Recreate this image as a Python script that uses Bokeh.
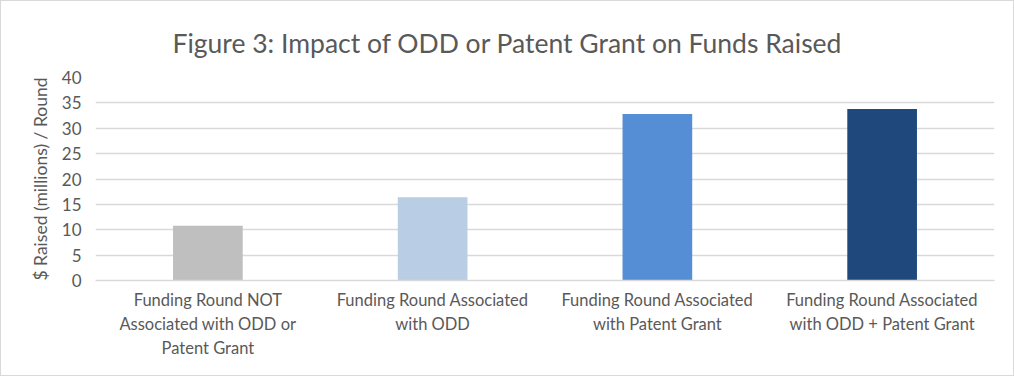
from bokeh.plotting import figure
from bokeh.models import Range1d, FactorRange, SingleIntervalTicker
from bokeh.embed import file_html
from bokeh.resources import INLINE

categories = [
    "Funding Round NOT\nAssociated with ODD or\nPatent Grant",
    "Funding Round Associated\nwith ODD",
    "Funding Round Associated\nwith Patent Grant",
    "Funding Round Associated\nwith ODD + Patent Grant",
]
values = [10.8, 16.4, 32.8, 33.8]
colors = ["#BFBFBF", "#B9CDE5", "#558ED5", "#1F497D"]
title_text = "Figure 3: Impact of ODD or Patent Grant on Funds Raised"
y_label = "$ Raised (millions) / Round"

FONT = "Lato"
TXT = "#595959"

p = figure(width=1014, height=376, x_range=FactorRange(*categories), y_range=Range1d(0, 40),
           output_backend="svg", toolbar_location=None,
           min_border_left=94, min_border_right=21, min_border_top=76, min_border_bottom=97)
p.outline_line_color = None
p.border_fill_color = "white"
p.styles = {"border": "1px solid #D9D9D9", "box-sizing": "border-box"}

p.title.text = title_text
p.title.align = "left"
p.title.text_font = FONT
p.title.text_font_size = "26.5px"
p.title.text_font_style = "normal"
p.title.text_color = TXT
p.title.standoff = 38
p.title.offset = 77

p.vbar(x=categories, top=values, width=0.31, fill_color=colors, line_color=None)

p.yaxis.ticker = SingleIntervalTicker(interval=5)
p.yaxis.axis_line_color = None
p.yaxis.major_tick_line_color = None
p.yaxis.minor_tick_line_color = None
p.yaxis.major_label_text_font = FONT
p.yaxis.major_label_text_font_size = "17px"
p.yaxis.major_label_text_color = TXT
p.yaxis.major_label_standoff = 8
p.yaxis.axis_label = y_label
p.yaxis.axis_label_text_font = FONT
p.yaxis.axis_label_text_font_size = "17.5px"
p.yaxis.axis_label_text_font_style = "normal"
p.yaxis.axis_label_text_color = TXT
p.yaxis.axis_label_standoff = 8

p.xaxis.axis_line_color = "#D9D9D9"
p.xaxis.axis_line_width = 1.5
p.xaxis.major_tick_line_color = None
p.xaxis.minor_tick_line_color = None
p.xaxis.major_label_text_font = FONT
p.xaxis.major_label_text_font_size = "16.5px"
p.xaxis.major_label_text_color = TXT
p.xaxis.major_label_standoff = 3
p.xaxis.major_label_orientation = "horizontal"

p.xgrid.grid_line_color = None
p.ygrid.grid_line_color = "#D9D9D9"
p.ygrid.grid_line_width = 1.5

open("out.html", "w").write(file_html(p, INLINE))
